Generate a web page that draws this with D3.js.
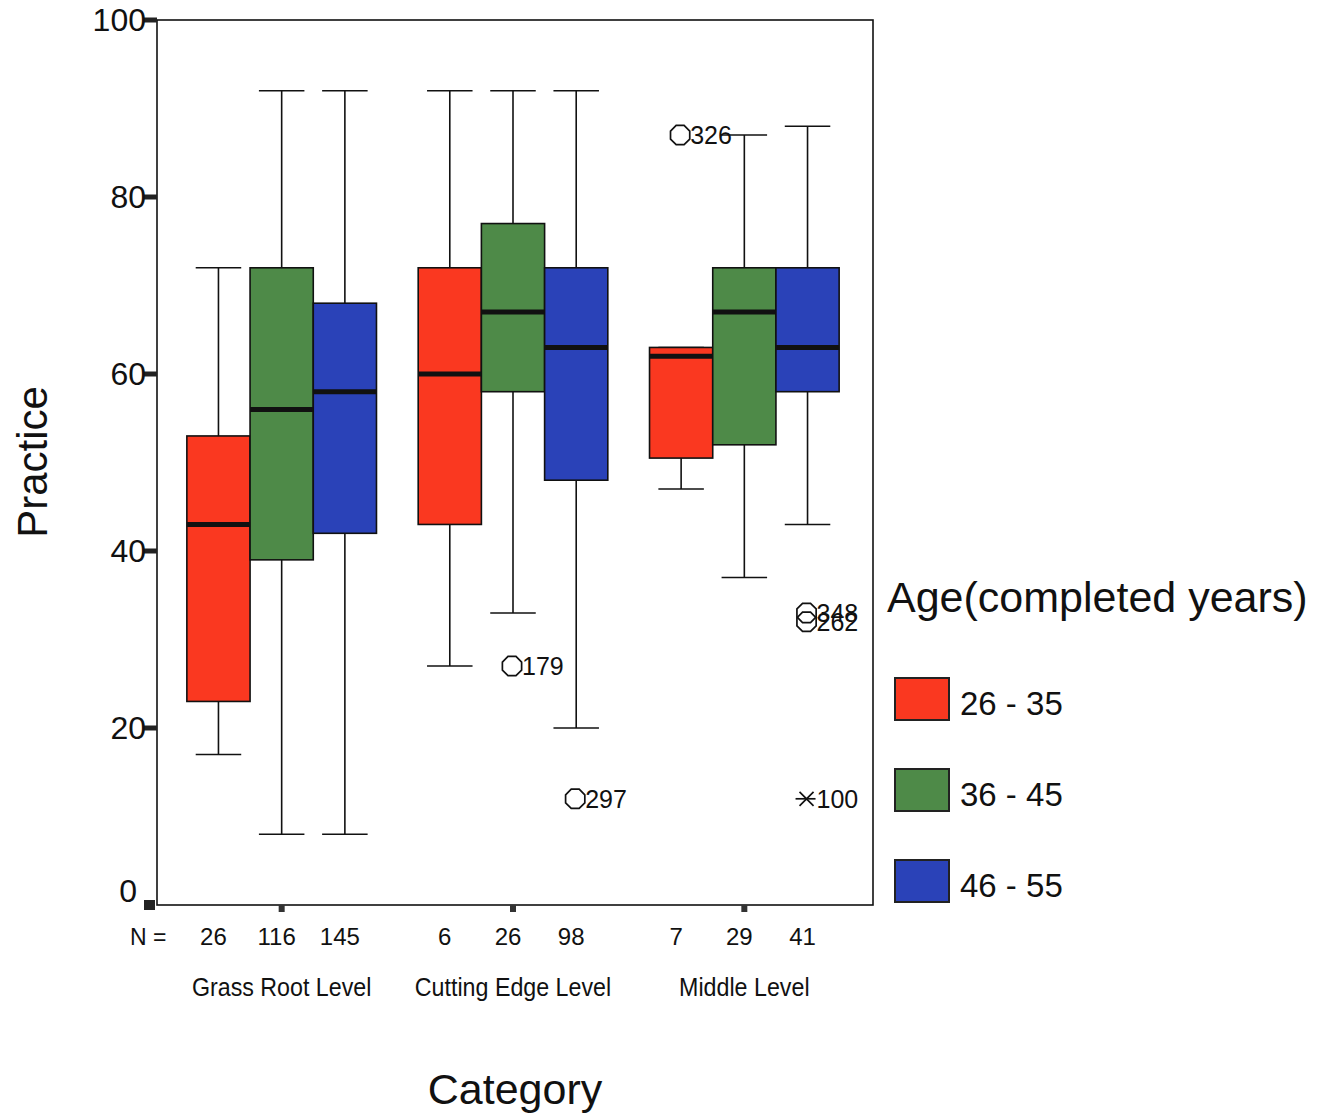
<!DOCTYPE html>
<html>
<head>
<meta charset="utf-8">
<script src="https://cdn.jsdelivr.net/npm/d3@7"></script>
<style>
  body { margin: 0; background: #fff; }
  text { font-family: "Liberation Sans", Arial, sans-serif; fill: #111; }
</style>
</head>
<body>
<div class="d3-container"></div>
<script>
const groups = ["Grass Root Level", "Cutting Edge Level", "Middle Level"];
const ages = ["26 - 35", "36 - 45", "46 - 55"];
const colors = ["#fa3820", "#4e8a48", "#2a42b8"];

// one entry per group, in age order
const counts   = [[26, 116, 145], [6, 26, 98], [7, 29, 41]];
const lowWhisk = [[17, 8, 8], [27, 33, 20], [47, 37, 43]];
const q1       = [[23, 39, 42], [43, 58, 48], [50.5, 52, 58]];
const medians  = [[43, 56, 58], [60, 67, 63], [62, 67, 63]];
const q3       = [[53, 72, 68], [72, 77, 72], [63, 72, 72]];
const highWhisk = [[72, 92, 92], [92, 92, 92], [63, 87, 88]];

const outliers = [
  {g: 1, a: 1, v: 27, id: "179", kind: "o"},
  {g: 1, a: 2, v: 12, id: "297", kind: "o"},
  {g: 2, a: 0, v: 87, id: "326", kind: "o"},
  {g: 2, a: 2, v: 33, id: "348", kind: "o"},
  {g: 2, a: 2, v: 32, id: "262", kind: "o"},
  {g: 2, a: 2, v: 12, id: "100", kind: "*"}
];

const yTicks = [0, 20, 40, 60, 80, 100];

const width = 1323;
const height = 1117;
const frame = {left: 157, right: 873, top: 20, bottom: 905};

const svg = d3.select(".d3-container")
  .append("svg")
  .attr("width", width)
  .attr("height", height);

const y = d3.scaleLinear()
  .domain([0, 100])
  .range([frame.bottom, frame.top]);

const x = d3.scaleBand()
  .domain(d3.range(groups.length))
  .range([166, 860]);

const xi = d3.scaleBand()
  .domain(d3.range(ages.length))
  .range([0, x.bandwidth()])
  .paddingInner(0)
  .paddingOuter(0.33);

const bw = xi.bandwidth();
const capW = bw * 0.72;
const cx = (g, a) => x(g) + xi(a) + bw / 2;

// frame
svg.append("rect")
  .attr("x", frame.left).attr("y", frame.top)
  .attr("width", frame.right - frame.left)
  .attr("height", frame.bottom - frame.top)
  .attr("fill", "none").attr("stroke", "#111").attr("stroke-width", 1.6);

// y axis ticks + labels
const yAx = svg.append("g");
yAx.selectAll("rect")
  .data(yTicks)
  .join("rect")
  .attr("x", frame.left - 13)
  .attr("y", d => y(d) - (d === 0 ? 5 : 2.5))
  .attr("width", d => d === 0 ? 11 : 13)
  .attr("height", d => d === 0 ? 10 : 5)
  .attr("fill", "#222");
yAx.selectAll("text")
  .data(yTicks)
  .join("text")
  .attr("x", d => d === 0 ? 137 : 146)
  .attr("y", d => d === 0 ? y(d) - 3 : y(d) + 11)
  .attr("text-anchor", "end")
  .attr("font-size", 32)
  .text(d => d);

// x ticks at group centres
svg.append("g").selectAll("rect")
  .data(d3.range(groups.length))
  .join("rect")
  .attr("x", g => x(g) + x.bandwidth() / 2 - 3)
  .attr("y", frame.bottom)
  .attr("width", 6).attr("height", 7)
  .attr("fill", "#333");

// boxes
const boxes = [];
groups.forEach((_, g) => ages.forEach((_, a) => boxes.push({g, a})));

const bx = svg.append("g").attr("stroke", "#111").attr("stroke-width", 1.6);

bx.selectAll("line.whisk")
  .data(boxes)
  .join("line")
  .attr("class", "whisk")
  .attr("x1", d => cx(d.g, d.a)).attr("x2", d => cx(d.g, d.a))
  .attr("y1", d => y(lowWhisk[d.g][d.a]))
  .attr("y2", d => y(highWhisk[d.g][d.a]));

bx.selectAll("line.caplo")
  .data(boxes)
  .join("line")
  .attr("class", "caplo")
  .attr("x1", d => cx(d.g, d.a) - capW / 2).attr("x2", d => cx(d.g, d.a) + capW / 2)
  .attr("y1", d => y(lowWhisk[d.g][d.a])).attr("y2", d => y(lowWhisk[d.g][d.a]));

bx.selectAll("line.caphi")
  .data(boxes)
  .join("line")
  .attr("class", "caphi")
  .attr("x1", d => cx(d.g, d.a) - capW / 2).attr("x2", d => cx(d.g, d.a) + capW / 2)
  .attr("y1", d => y(highWhisk[d.g][d.a])).attr("y2", d => y(highWhisk[d.g][d.a]));

bx.selectAll("rect")
  .data(boxes)
  .join("rect")
  .attr("x", d => x(d.g) + xi(d.a))
  .attr("y", d => y(q3[d.g][d.a]))
  .attr("width", bw)
  .attr("height", d => y(q1[d.g][d.a]) - y(q3[d.g][d.a]))
  .attr("fill", d => colors[d.a]);

bx.selectAll("line.med")
  .data(boxes)
  .join("line")
  .attr("class", "med")
  .attr("stroke-width", 5)
  .attr("x1", d => x(d.g) + xi(d.a)).attr("x2", d => x(d.g) + xi(d.a) + bw)
  .attr("y1", d => y(medians[d.g][d.a])).attr("y2", d => y(medians[d.g][d.a]));

// outliers
const octagon = d3.symbol().type({
  draw(ctx, size) {
    const r = Math.sqrt(size / Math.PI);
    for (let i = 0; i < 8; i++) {
      const t = Math.PI / 8 + i * Math.PI / 4;
      const px = r * Math.cos(t), py = r * Math.sin(t);
      i ? ctx.lineTo(px, py) : ctx.moveTo(px, py);
    }
    ctx.closePath();
  }
}).size(340);

const ol = svg.append("g");
ol.selectAll("path")
  .data(outliers)
  .join("path")
  .attr("transform", d => `translate(${cx(d.g, d.a) - 1},${y(d.v)})`)
  .attr("d", d => d.kind === "*" ? d3.symbol(d3.symbolTimes, 130)() : octagon())
  .attr("fill", "none").attr("stroke", "#111").attr("stroke-width", 1.7);
ol.selectAll("line")
  .data(outliers.filter(d => d.kind === "*"))
  .join("line")
  .attr("x1", d => cx(d.g, d.a) - 12).attr("x2", d => cx(d.g, d.a) + 8)
  .attr("y1", d => y(d.v)).attr("y2", d => y(d.v))
  .attr("stroke", "#111").attr("stroke-width", 1.7);
ol.selectAll("text")
  .data(outliers)
  .join("text")
  .attr("x", d => cx(d.g, d.a) + 9)
  .attr("y", d => y(d.v) + 9)
  .attr("font-size", 25)
  .text(d => d.id);

// N = row and group names
svg.append("text")
  .attr("x", 130).attr("y", 945)
  .attr("font-size", 23)
  .text("N =");
svg.append("g").selectAll("text")
  .data(boxes)
  .join("text")
  .attr("x", d => cx(d.g, d.a) - 5)
  .attr("y", 945)
  .attr("text-anchor", "middle")
  .attr("font-size", 24)
  .text(d => counts[d.g][d.a]);
svg.append("g").selectAll("text")
  .data(groups)
  .join("text")
  .attr("x", (d, g) => x(g) + x.bandwidth() / 2)
  .attr("y", 996)
  .attr("text-anchor", "middle")
  .attr("font-size", 25)
  .attr("transform", (d, g) => {
    const c = x(g) + x.bandwidth() / 2;
    return `translate(${c},0) scale(0.93,1) translate(${-c},0)`;
  })
  .text(d => d);

// axis titles
svg.append("text")
  .attr("transform", "translate(47,462) rotate(-90)")
  .attr("text-anchor", "middle")
  .attr("font-size", 42)
  .text("Practice");
svg.append("text")
  .attr("x", 515).attr("y", 1104)
  .attr("text-anchor", "middle")
  .attr("font-size", 43)
  .text("Category");

// legend
const lg = svg.append("g");
lg.append("text")
  .attr("x", 887).attr("y", 612)
  .attr("font-size", 43)
  .text("Age(completed years)");
lg.selectAll("rect")
  .data(ages)
  .join("rect")
  .attr("x", 895).attr("y", (d, i) => 678 + i * 91)
  .attr("width", 54).attr("height", 42)
  .attr("fill", (d, i) => colors[i])
  .attr("stroke", "#222").attr("stroke-width", 2);
lg.selectAll("text.lab")
  .data(ages)
  .join("text")
  .attr("class", "lab")
  .attr("x", 960).attr("y", (d, i) => 715 + i * 91)
  .attr("font-size", 33)
  .text(d => d);
</script>
</body>
</html>
